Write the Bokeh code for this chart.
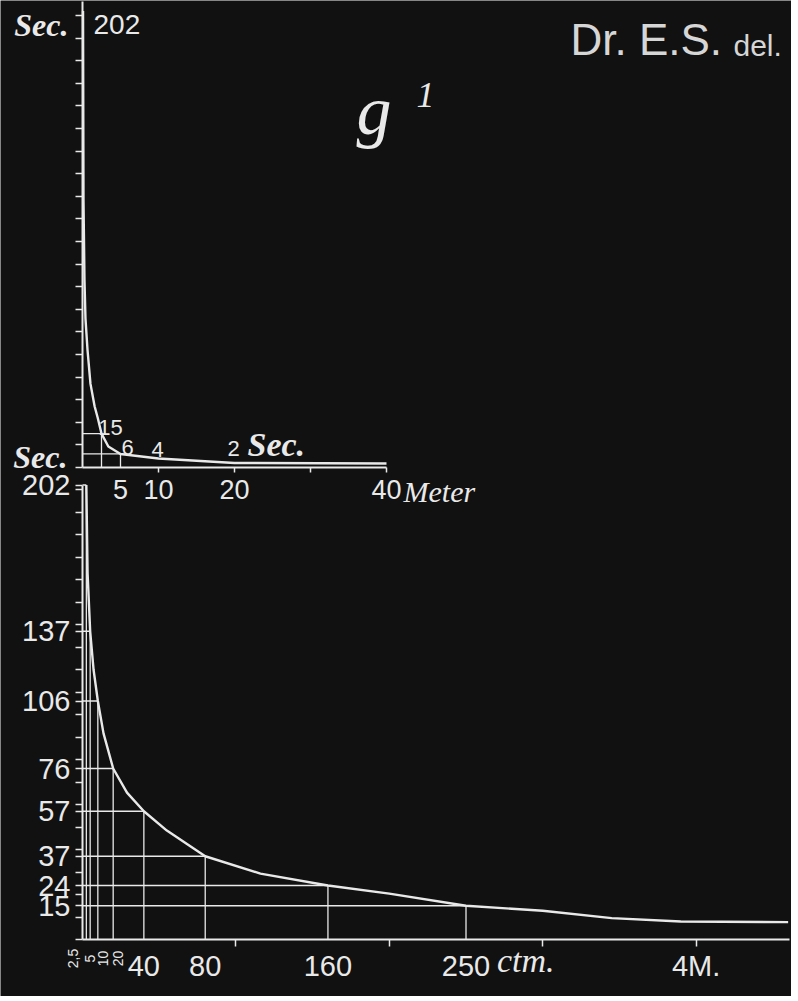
import math
from bokeh.plotting import figure
from bokeh.models import Range1d, LinearAxis, FixedTicker, Label
from bokeh.embed import file_html
from bokeh.resources import INLINE

# ---------------- data ----------------
# lower chart: distance in centimetres, time in seconds
low_dist_cm = [2.5, 5, 10, 20, 40, 80, 160, 250]
low_time_s = [202, 137, 106, 76, 57, 37, 24, 15]
low_small_labels = ["2,5", "5", "10", "20"]          # rotated labels under the first grid lines
low_small_label_cm = [2.5, 5, 10, 20]
low_x_label_cm = [40, 80, 160, 250, 400]
low_x_label_text = ["40", "80", "160", "250", "4M."]
low_x_minor_cm = [100, 200, 300, 400]
low_curve_cm = [2.5, 3.3, 5, 7.2, 10, 13.7, 20, 29, 40, 55, 80, 116, 160, 200, 250, 300, 345, 390, 460]
low_curve_s = [202, 163, 137, 120, 106, 91.6, 76, 65.3, 57, 48.4, 37, 29.3, 24, 20.4, 15, 12.8, 9.5, 8, 7.7]

# upper chart: distance in metres, time in seconds
up_dist_m = [2.5, 5]
up_time_s = [15, 6]
up_label_m = [2.5, 5, 10, 20]
up_label_s = [15, 6, 4, 2]
up_label_text = ["15", "6", "4", "2"]
up_x_ticks_m = [5, 10, 20, 40]
up_x_minor_m = [10, 20, 30, 40]
up_curve_m = [0.07, 0.13, 0.26, 0.39, 0.66, 1.05, 1.6, 2.0, 2.5, 3.4, 5, 10, 20, 40]
up_curve_s = [202, 118, 83, 66, 52, 37, 27, 22, 15, 9.3, 6, 4, 2, 1.8]

sec_minor = list(range(0, 210, 10))

# ---------------- style / layout ----------------
INK = "#e9e9e9"
BG = "#111111"
SANS = "Liberation Sans"
SERIF = "Liberation Serif"
W, H = 791, 996

# pixel mapping of the drawing (origin of each chart and its scale)
LX0, LY0, LSX, LSY = 82, 939, 1.534, 2.25     # lower chart: cm, s
UX0, UY0, USX, USY = 82, 467, 7.6, 2.26       # upper chart: m, s

p = figure(width=W, height=H, output_backend="svg", toolbar_location=None,
           x_range=Range1d(-LX0 / LSX, (W - LX0) / LSX),
           y_range=Range1d(-(H - LY0) / LSY, LY0 / LSY),
           x_axis_type=None, y_axis_type=None, min_border=0)
p.extra_x_ranges = {"m": Range1d(-UX0 / USX, (W - UX0) / USX)}
p.extra_y_ranges = {"ts": Range1d(-(H - UY0) / USY, UY0 / USY)}
p.background_fill_color = BG
p.border_fill_color = BG
p.outline_line_color = None


def style_axis(ax, size):
    ax.axis_line_color = INK
    ax.axis_line_width = 2
    ax.major_tick_line_color = INK
    ax.minor_tick_line_color = INK
    ax.major_tick_line_width = 1.5
    ax.minor_tick_line_width = 1.5
    ax.major_label_text_color = INK
    ax.major_label_text_font = SANS
    ax.major_label_text_font_size = f"{size}px"


# lower chart axes
xb = LinearAxis(fixed_location=0, bounds=(0, 461),
                ticker=FixedTicker(ticks=low_x_label_cm, minor_ticks=low_x_minor_cm),
                major_label_overrides={k: t for k, t in zip(low_x_label_cm, low_x_label_text)},
                major_tick_out=0, major_tick_in=0, minor_tick_out=7, minor_tick_in=0,
                major_label_standoff=3)
style_axis(xb, 29)
p.add_layout(xb, "below")

yl = LinearAxis(fixed_location=0, bounds=(0, 202),
                ticker=FixedTicker(ticks=low_time_s, minor_ticks=sec_minor),
                major_tick_out=7, major_tick_in=0, minor_tick_out=7, minor_tick_in=0,
                major_label_standoff=5)
style_axis(yl, 29)
p.add_layout(yl, "left")

# upper chart axes
yt = LinearAxis(x_range_name="m", y_range_name="ts", fixed_location=0, bounds=(0, 206),
                ticker=FixedTicker(ticks=[], minor_ticks=sec_minor),
                major_tick_out=0, major_tick_in=0, minor_tick_out=7, minor_tick_in=0)
style_axis(yt, 27)
p.add_layout(yt, "left")

xt = LinearAxis(x_range_name="m", y_range_name="ts", fixed_location=0, bounds=(0, 40),
                ticker=FixedTicker(ticks=up_x_ticks_m, minor_ticks=up_x_minor_m),
                major_tick_out=0, major_tick_in=0, minor_tick_out=5, minor_tick_in=0,
                major_label_standoff=7)
style_axis(xt, 27)
p.add_layout(xt, "below")

# lower chart grid lines and curve
n = len(low_dist_cm)
p.segment(x0=[0] * n, y0=low_time_s, x1=low_dist_cm, y1=low_time_s, line_color=INK, line_width=1.3)
p.segment(x0=low_dist_cm, y0=[0] * n, x1=low_dist_cm, y1=low_time_s, line_color=INK, line_width=1.3)
p.line(low_curve_cm, low_curve_s, line_color=INK, line_width=2.4, line_join="round")

# upper chart grid lines and curve
m = len(up_dist_m)
p.segment(x0=[0] * m, y0=up_time_s, x1=up_dist_m, y1=up_time_s, line_color=INK, line_width=1.3,
          x_range_name="m", y_range_name="ts")
p.segment(x0=up_dist_m, y0=[0] * m, x1=up_dist_m, y1=up_time_s, line_color=INK, line_width=1.3,
          x_range_name="m", y_range_name="ts")
p.line(up_curve_m, up_curve_s, line_color=INK, line_width=2.4, line_join="round",
       x_range_name="m", y_range_name="ts")


def lab(text, x, y, font=SANS, size=28, style="normal", align="center",
        dx=0, dy=0, angle=0, top=False, color=INK):
    kw = dict(x=x, y=y, text=text, text_font=font, text_font_size=f"{size}px",
              text_font_style=style, text_align=align, text_baseline="middle",
              x_offset=dx, y_offset=dy, angle=angle, text_color=color)
    if top:
        kw.update(x_range_name="m", y_range_name="ts")
    p.add_layout(Label(**kw))


def at_px(px, py):
    """page pixel -> upper-chart data coordinates (for free-standing titles)"""
    return (px - UX0) / USX, (UY0 - py) / USY


# upper chart texts
lab("Sec.", 0, 202, font=SERIF, size=32, style="bold italic", align="right", dx=-14, dy=-14, top=True)
lab("202", 0, 202, size=28, align="left", dx=11, dy=-14, top=True)
up_dx = [9, 7, -1, -1]
up_dy = [6, 6, 9, 14]
for t, xm, ys, dx, dy in zip(up_label_text, up_label_m, up_label_s, up_dx, up_dy):
    lab(t, xm, ys, size=22, dx=dx, dy=dy, top=True)
lab("Sec.", 20, 2, font=SERIF, size=34, style="bold italic", align="left", dx=13, dy=18, top=True)
lab("Meter", 40, 0, font=SERIF, size=30, style="italic", align="left", dx=17, dy=-24, top=True)

# lower chart texts
lab("Sec.", 0, 202, font=SERIF, size=32, style="bold italic", align="right", dx=-15, dy=28)
lab("ctm.", 250, 0, font=SERIF, size=34, style="italic", align="left", dx=31, dy=-21)
small_dx = [-13, 0, 5, 5]
for t, xc, dx in zip(low_small_labels, low_small_label_cm, small_dx):
    lab(t, xc, 0, size=14, dx=dx, dy=-19, angle=math.pi / 2)

# titles
gx, gy = at_px(356, 110)
lab("g", gx, gy, font=SERIF, size=70, style="italic", align="left", top=True)
ox, oy = at_px(416, 94)
lab("1", ox, oy, font=SERIF, size=36, style="italic", align="left", top=True)
dx_, dy_ = at_px(570, 39)
lab("Dr. E.S.", dx_, dy_, size=44, align="left", top=True, color="#d6d6d6")
ex, ey = at_px(733, 45)
lab("del.", ex, ey, size=30, align="left", top=True, color="#d6d6d6")

open("out.html", "w").write(file_html(p, INLINE))
